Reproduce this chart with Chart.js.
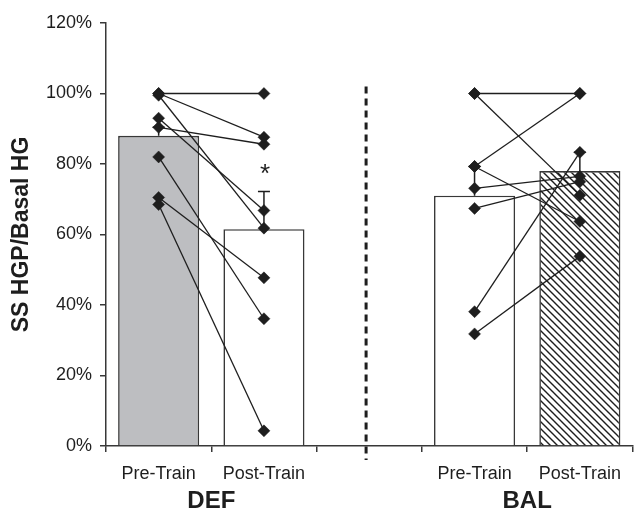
<!DOCTYPE html>
<html>
<head>
<meta charset="utf-8">
<script src="https://cdn.jsdelivr.net/npm/chart.js@4/dist/chart.umd.min.js"></script>
<style>
  html, body { margin: 0; padding: 0; background: #fff; }
  canvas { display: block; }
</style>
</head>
<body>
<canvas id="graphique" width="640" height="513"></canvas>
<script>
const CATEGORIES = ['Pre-Train', 'Post-Train', '', 'Pre-Train', 'Post-Train'];
const GROUPES = ['DEF', 'BAL'];
const MEMBRES_GROUPES = [[0, 1], [3, 4]];
const MOYENNES = [88, 61.5, null, 71, 78];
const ERREURS = [2.4, 10.7, null, 8.3, 5.3];
const ASTERISQUES = ['', '*', '', '', ''];

const DEF_PRE = [100, 100, 99.5, 93, 90.4, 82, 70.5, 68.5];
const DEF_POST = [100, 87.6, 61.8, 66.8, 85.6, 36.1, 47.7, 4.3];
const BAL_PRE = [100, 100, 79.3, 79.3, 73.1, 67.4, 38.1, 31.8];
const BAL_POST = [100, 71.1, 100, 63.7, 76.5, 75, 83.3, 53.8];

const SEPARATEUR_X = 1.97;
const SEPARATEUR_Y = [102, -4];

const PALETTE = {
  NOIR: '#1e1e1e',
  BORDURE: '#383838',
  GRIS: '#bdbec1',
  BLANC: '#fff',
};
const POLICE = "'Liberation Sans', Arial, sans-serif";

const motifHachure = () => {
  const taille = 7;
  const $motif = document.createElement('canvas');
  $motif.width = taille;
  $motif.height = taille;
  const ctx = $motif.getContext('2d');
  ctx.fillStyle = PALETTE.BLANC;
  ctx.fillRect(0, 0, taille, taille);
  ctx.strokeStyle = PALETTE.NOIR;
  ctx.lineWidth = 1.4;
  ctx.beginPath();
  ctx.moveTo(-1, -1); ctx.lineTo(taille + 1, taille + 1);
  ctx.moveTo(-1, taille - 1); ctx.lineTo(1, taille + 1);
  ctx.moveTo(taille - 1, -1); ctx.lineTo(taille + 1, 1);
  ctx.stroke();
  return ctx.createPattern($motif, 'repeat');
};

const COULEURS_BARRES = [PALETTE.GRIS, PALETTE.BLANC, PALETTE.BLANC, PALETTE.BLANC, motifHachure()];

// toutes les séries sur l'axe linéaire "xl" : l'axe "x" ne sert qu'aux libellés
const barres = () => {
  const indices = MOYENNES.map((m, i) => i).filter((i) => MOYENNES[i] !== null);
  return {
    type: 'bar',
    order: 3,
    xAxisID: 'xl',
    data: indices.map((i) => ({ x: i, y: MOYENNES[i] })),
    backgroundColor: indices.map((i) => COULEURS_BARRES[i]),
    borderColor: PALETTE.BORDURE,
    borderWidth: 1.6,
    barPercentage: 0.77,
    categoryPercentage: 1,
  };
};

const lignesSujets = (pre, post, iPre, iPost) => pre.map((valeur, i) => ({
  type: 'line',
  xAxisID: 'xl',
  order: 1,
  data: [{ x: iPre, y: valeur }, { x: iPost, y: post[i] }],
  borderColor: PALETTE.NOIR,
  borderWidth: 1.3,
  pointStyle: 'rectRot',
  pointRadius: 6,
  pointBackgroundColor: PALETTE.NOIR,
  pointBorderColor: PALETTE.NOIR,
  pointBorderWidth: 0.5,
}));

const barresErreur = () => MOYENNES
  .map((moyenne, i) => (moyenne === null ? null : {
    type: 'line',
    xAxisID: 'xl',
    order: 2,
    data: [{ x: i, y: moyenne }, { x: i, y: moyenne + ERREURS[i] }],
    borderColor: PALETTE.NOIR,
    borderWidth: 1.5,
    pointStyle: 'line',
    pointRadius: [0, 6],
    pointBorderColor: PALETTE.NOIR,
    pointBorderWidth: 1.5,
  }))
  .filter((d) => d !== null);

const asterisques = {
  id: 'asterisques',
  afterDatasetsDraw: (chart) => {
    const { ctx, scales } = chart;
    ctx.save();
    ctx.fillStyle = PALETTE.NOIR;
    ctx.font = `26px ${POLICE}`;
    ctx.textAlign = 'center';
    ctx.textBaseline = 'alphabetic';
    ASTERISQUES.forEach((texte, i) => {
      if (!texte) return;
      const x = scales.xl.getPixelForValue(i);
      const y = scales.y.getPixelForValue(MOYENNES[i] + ERREURS[i]) - 24;
      ctx.fillText(texte, x + 1, y + 15);
    });
    ctx.restore();
  },
};

const centresGroupes = MEMBRES_GROUPES.map(([a, b]) => (a + b) / 2);

new Chart(document.getElementById('graphique'), {
  type: 'bar',
  plugins: [asterisques],
  data: {
    labels: CATEGORIES,
    datasets: [
      barres(),
      ...lignesSujets(DEF_PRE, DEF_POST, 0, 1),
      ...lignesSujets(BAL_PRE, BAL_POST, 3, 4),
      ...barresErreur(),
      {
        type: 'line',
        xAxisID: 'xl',
        order: 2,
        clip: false,
        data: SEPARATEUR_Y.map((y) => ({ x: SEPARATEUR_X, y })),
        borderColor: PALETTE.NOIR,
        borderWidth: 3,
        borderDash: [7, 5],
        pointRadius: 0,
      },
    ],
  },
  options: {
    responsive: false,
    animation: false,
    events: [],
    layout: { padding: { top: 23, right: 2, left: 0, bottom: 0 } },
    plugins: {
      legend: { display: false },
      tooltip: { enabled: false },
    },
    scales: {
      x: {
        type: 'category',
        offset: true,
        weight: 0,
        grid: { offset: true, drawOnChartArea: false, tickLength: 6, color: PALETTE.BORDURE, lineWidth: 1.5 },
        border: { color: PALETTE.BORDURE, width: 1.5 },
        ticks: { color: PALETTE.NOIR, font: { family: POLICE, size: 18 }, padding: 11, maxRotation: 0, autoSkip: false },
        afterFit: (axe) => { axe.height = 39; },
      },
      xl: {
        type: 'linear',
        position: 'bottom',
        offset: false,
        weight: 1,
        min: -0.5,
        max: 4.5,
        grid: { display: false, drawTicks: false, offset: false },
        border: { display: false },
        afterBuildTicks: (axe) => { axe.ticks = centresGroupes.map((value) => ({ value })); },
        ticks: {
          color: PALETTE.NOIR,
          font: { family: POLICE, size: 24, weight: 'bold' },
          padding: 2,
          callback: (valeur, index) => GROUPES[index],
        },
        afterFit: (axe) => { axe.height = 28; },
      },
      y: {
        min: 0,
        max: 120,
        ticks: {
          stepSize: 20,
          color: PALETTE.NOIR,
          font: { family: POLICE, size: 18 },
          padding: 8,
          callback: (valeur) => `${valeur}%`,
        },
        grid: { drawOnChartArea: false, tickLength: 6, color: PALETTE.BORDURE, lineWidth: 1.5 },
        border: { color: PALETTE.BORDURE, width: 1.5 },
        title: {
          display: true,
          text: 'SS HGP/Basal HG',
          color: PALETTE.NOIR,
          font: { family: POLICE, size: 23, weight: 'bold' },
          padding: { top: 8, bottom: 0 },
        },
        afterFit: (axe) => { axe.width = 106; },
      },
    },
  },
});
</script>
</body>
</html>
